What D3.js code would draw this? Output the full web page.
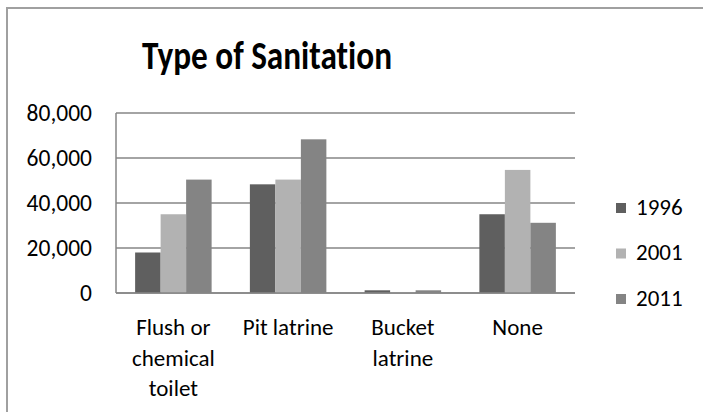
<!DOCTYPE html>
<html><head><meta charset="utf-8">
<script src="https://cdn.jsdelivr.net/npm/d3@7"></script>
<style>body{margin:0;background:#fff}svg{display:block}text{font-variant-ligatures:none}</style>
</head><body>
<svg id="c" width="703" height="412"></svg>
<script>
const categories = [["Flush or","chemical","toilet"],["Pit latrine"],["Bucket","latrine"],["None"]];
const categoryNames = ["Flush or chemical toilet","Pit latrine","Bucket latrine","None"];
const seriesNames = ["1996","2001","2011"];
const values1996 = [18000, 48300, 1200, 35000];
const values2001 = [35000, 50400, 450, 54700];
const values2011 = [50400, 68300, 1200, 31200];
const yTicks = [0, 20000, 40000, 60000, 80000];
const colors = ["#5f5f5f", "#b2b2b2", "#848484"];
const series = [values1996, values2001, values2011];

(function(){
const svg = d3.select("#c");
const font = "Carlito, Lato, 'Open Sans', sans-serif";
svg.append("path").attr("d","M7,412 V8 H703").attr("fill","none").attr("stroke","#a0a0a0").attr("stroke-width",2);

svg.append("text").attr("x",267).attr("y",69).attr("text-anchor","middle")
  .attr("font-family",font).attr("font-weight","bold").attr("font-size",40).attr("fill","#000")
  .attr("textLength",250).attr("lengthAdjust","spacingAndGlyphs")
  .text("Type of Sanitation");

const pLeft=116, pRight=575, pTop=113, pBottom=293;
const x = d3.scaleBand().domain(categoryNames).range([pLeft,pRight]).paddingInner(0).paddingOuter(0);
const y = d3.scaleLinear().domain([0,80000]).range([pBottom,pTop]);

svg.append("g").selectAll("line").data(yTicks).join("line")
  .attr("x1",pLeft).attr("x2",pRight).attr("y1",d=>y(d)).attr("y2",d=>y(d))
  .attr("stroke","#868686").attr("stroke-width",1.5);
svg.append("line").attr("x1",pLeft).attr("x2",pLeft).attr("y1",pTop).attr("y2",pBottom).attr("stroke","#868686").attr("stroke-width",1.5);

const yAxis = d3.axisLeft(y).tickValues(yTicks).tickSize(0).tickPadding(0).tickFormat(d3.format(","));
const ya = svg.append("g").attr("transform",`translate(${pLeft-24},0)`).call(yAxis);
ya.select(".domain").remove();
ya.selectAll("text").attr("font-family",font).attr("font-size",23.5).attr("fill","#000");

const bw = x.bandwidth()/4.5;
const g = svg.append("g");
series.forEach((vals,si)=>{
  g.selectAll(".s"+si).data(vals).join("rect").attr("class","s"+si)
    .attr("x",(d,i)=>x(categoryNames[i]) + bw*0.75 + si*bw)
    .attr("width",bw)
    .attr("y",d=>y(d)).attr("height",d=>pBottom-y(d))
    .attr("fill",colors[si]);
});
svg.append("line").attr("x1",pLeft).attr("x2",pRight).attr("y1",pBottom).attr("y2",pBottom).attr("stroke","#868686").attr("stroke-width",1.5);

categories.forEach((lines,i)=>{
  const t = svg.append("text").attr("text-anchor","middle").attr("font-family",font).attr("font-size",23).attr("fill","#000");
  lines.forEach((ln,j)=>{
    t.append("tspan").attr("x",x(categoryNames[i])+x.bandwidth()/2).attr("y",335+j*30.5).text(ln);
  });
});

seriesNames.forEach((s,i)=>{
  const cy = 208 + i*45.5;
  svg.append("rect").attr("x",616).attr("y",cy-5).attr("width",10).attr("height",10).attr("fill",colors[i]);
  svg.append("text").attr("x",636).attr("y",cy+6.5).attr("font-family",font).attr("font-size",23).attr("fill","#000").text(s);
});
})();
</script>
</body></html>
